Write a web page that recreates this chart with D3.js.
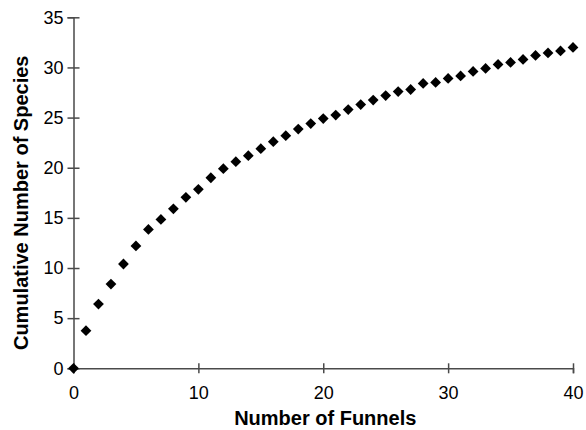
<!DOCTYPE html>
<html>
<head>
<meta charset="utf-8">
<script src="https://cdn.jsdelivr.net/npm/d3@7"></script>
<style>
  html, body { margin: 0; padding: 0; background: #fff; }
  svg { display: block; }
  text { font-family: "Liberation Sans", Arial, Helvetica, sans-serif; }
</style>
</head>
<body>
<svg id="chart" width="586" height="430"></svg>
<script>
// Species accumulation: cumulative species count against funnels sampled
const funnels = d3.range(0, 41);
const species = [
  0, 3.75, 6.4, 8.4, 10.4, 12.2, 13.85, 14.85, 15.9, 17.05,
  17.85, 19.0, 19.9, 20.6, 21.2, 21.9, 22.6, 23.2, 23.85, 24.4,
  24.9, 25.25, 25.8, 26.3, 26.75, 27.2, 27.6, 27.8, 28.4, 28.5,
  28.9, 29.15, 29.6, 29.9, 30.3, 30.5, 30.8, 31.2, 31.45, 31.65,
  32.0
];
const xTicks = [0, 10, 20, 30, 40];
const yTicks = [0, 5, 10, 15, 20, 25, 30, 35];
const xTitle = "Number of Funnels";
const yTitle = "Cumulative Number of Species";

const svg = d3.select("#chart");
const margin = { left: 73.5, right: 13, top: 17.3, bottom: 61.7 };
const W = 586, H = 430;

const x = d3.scaleLinear().domain([0, 40]).range([margin.left, W - margin.right]);
const y = d3.scaleLinear().domain([0, 35]).range([H - margin.bottom, margin.top]);

const axisColor = "#4a4a4a";

// x axis with ticks crossing the line
const gx = svg.append("g")
  .attr("transform", `translate(0,${y(0)})`)
  .call(d3.axisBottom(x).tickValues(xTicks).tickFormat(d3.format("d")).tickSizeOuter(0).tickSize(5).tickPadding(13));
gx.select(".domain").attr("stroke", axisColor).attr("stroke-width", 1.5);
gx.selectAll(".tick line").attr("y1", -5).attr("y2", 5).attr("stroke", axisColor).attr("stroke-width", 1.5);
gx.selectAll(".tick text").attr("font-size", 18).attr("fill", "#000")
  .style("font-family", "'Liberation Sans', Arial, sans-serif");

// y axis with ticks crossing the line
const gy = svg.append("g")
  .attr("transform", `translate(${x(0)},0)`)
  .call(d3.axisLeft(y).tickValues(yTicks).tickFormat(d3.format("d")).tickSizeOuter(0).tickSize(6).tickPadding(4));
gy.select(".domain").attr("stroke", axisColor).attr("stroke-width", 1.5);
gy.selectAll(".tick line").attr("x1", -6).attr("x2", 6).attr("stroke", axisColor).attr("stroke-width", 1.5);
gy.selectAll(".tick text").attr("font-size", 18).attr("fill", "#000")
  .style("font-family", "'Liberation Sans', Arial, sans-serif");

// axis titles
svg.append("text")
  .attr("x", (x(0) + x(40)) / 2 + 2)
  .attr("y", 425)
  .attr("text-anchor", "middle")
  .attr("font-size", 20)
  .attr("font-weight", "bold")
  .text(xTitle);

svg.append("text")
  .attr("transform", `translate(28,${(y(0) + y(35)) / 2 + 10}) rotate(-90)`)
  .attr("text-anchor", "middle")
  .attr("font-size", 20)
  .attr("font-weight", "bold")
  .text(yTitle);

// diamond markers
const diamond = d3.symbol().type(d3.symbolSquare).size(58);
svg.append("g")
  .selectAll("path")
  .data(funnels.map((f, i) => ({ f, s: species[i] })))
  .join("path")
  .attr("d", diamond)
  .attr("transform", d => `translate(${x(d.f)},${y(d.s)}) rotate(45)`)
  .attr("fill", "#000");
</script>
</body>
</html>
